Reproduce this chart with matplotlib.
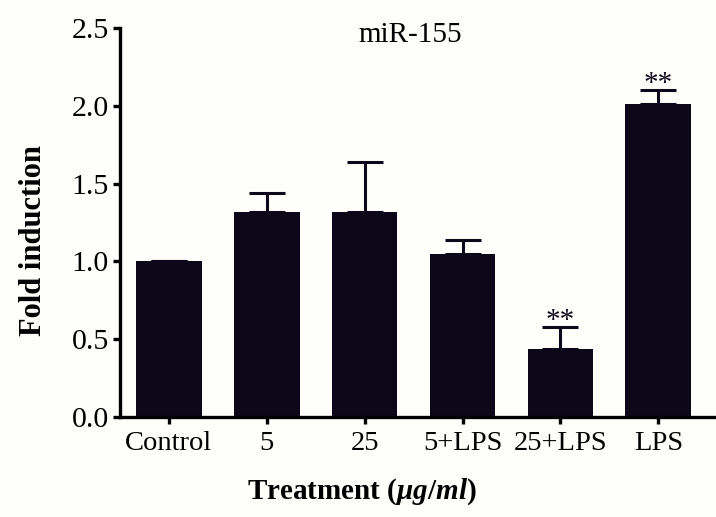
import numpy as np
import matplotlib.pyplot as plt

# miR-155 fold induction per treatment
treatments = ["Control", "5", "25", "5+LPS", "25+LPS", "LPS"]
fold = [1.0, 1.32, 1.32, 1.05, 0.44, 2.01]
sem = [0.0, 0.12, 0.32, 0.09, 0.14, 0.09]
signif = ["", "", "", "", "**", "**"]

plt.rcParams["font.family"] = ["Liberation Serif", "DejaVu Serif"]
plt.rcParams["mathtext.fontset"] = "custom"
plt.rcParams["mathtext.it"] = "Liberation Serif:italic:bold"
plt.rcParams["mathtext.rm"] = "Liberation Serif:bold"

bar_color = "#0d0819"
bg = "#fefefa"

fig = plt.figure(figsize=(7.16, 5.17), dpi=100, facecolor=bg)
ax = fig.add_axes([0.1676, 0.1934, 0.8324, 0.7524], facecolor=bg)

x = np.arange(len(treatments))
ax.bar(x, fold, width=0.67, color=bar_color, zorder=2)

# upper error bars only
ax.errorbar(x, fold, yerr=[np.zeros(len(sem)), sem], fmt="none",
            ecolor=bar_color, elinewidth=2.2, capsize=13, capthick=2.2, zorder=1)

for xi, f, s, mark in zip(x, fold, sem, signif):
    if mark:
        ax.text(xi, f + s - 0.045, mark, ha="center", va="bottom",
                fontsize=21, color=bar_color)

ax.set_xlim(-0.5, 5.59)
ax.set_ylim(0, 2.5)
ax.set_yticks(np.arange(0, 2.51, 0.5))
ax.set_yticklabels([f"{v:.1f}" for v in np.arange(0, 2.51, 0.5)], fontsize=21.5)
ax.set_xticks(x)
ax.set_xticklabels(treatments, fontsize=20.5)

for side in ["top", "right"]:
    ax.spines[side].set_visible(False)
for side in ["left", "bottom"]:
    ax.spines[side].set_linewidth(2.4)
    ax.spines[side].set_color("black")
ax.tick_params(axis="both", width=2.4, length=5, pad=3, color="black")
ax.tick_params(axis="x", pad=5)

ax.text(0.487, 1.015, "miR-155", transform=ax.transAxes, ha="center", va="top",
        fontsize=21)

ax.set_ylabel("Fold induction", fontsize=22, fontweight="bold")
ax.yaxis.set_label_coords(-0.12, 0.454)
ax.set_xlabel(r"Treatment ($\mu g/ml$)", fontsize=21, fontweight="bold")
ax.xaxis.set_label_coords(0.405, -0.152)

plt.savefig("out.png", dpi=100, facecolor=bg)
